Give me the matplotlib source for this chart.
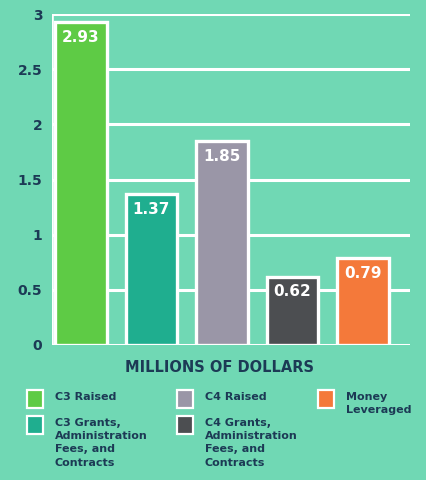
import numpy as np
import matplotlib.pyplot as plt
from matplotlib.patches import Rectangle

categories = ["C3 Raised", "C3 Grants,\nAdministration\nFees, and\nContracts",
              "C4 Raised", "C4 Grants,\nAdministration\nFees, and\nContracts",
              "Money\nLeveraged"]
values = [2.93, 1.37, 1.85, 0.62, 0.79]
bar_colors = ["#5ecb45", "#1fae8f", "#9a96a7", "#4c4e51", "#f4793a"]
yticks = [0, 0.5, 1, 1.5, 2, 2.5, 3]
ytick_labels = ["0", "0.5", "1", "1.5", "2", "2.5", "3"]

bg = "#70d8b4"
navy = "#1c3a55"

fig = plt.figure(figsize=(4.27, 4.8), dpi=100, facecolor=bg)
ax = fig.add_axes([52 / 427, 1 - 345 / 480, 358 / 427, 331 / 480])
ax.set_facecolor(bg)

x = np.arange(len(values))
for yv in yticks:
    ax.axhline(yv, color="white", lw=2.2, zorder=1)
ax.axvline(-0.41, color="white", lw=2.6, zorder=1)

bars = ax.bar(x, values, width=0.73, color=bar_colors, edgecolor="white",
              linewidth=2.4, zorder=3)
for b, v in zip(bars, values):
    ax.annotate(f"{v:.2f}", (b.get_x() + b.get_width() / 2, v),
                xytext=(0, -11), textcoords="offset points",
                ha="center", va="center", color="white",
                fontsize=11, fontweight="bold", zorder=4)

ax.set_xlim(-0.41, 4.67)
ax.set_ylim(0, 3)
ax.set_xticks([])
ax.set_yticks(yticks)
ax.set_yticklabels(ytick_labels, color=navy, fontsize=10, fontweight="bold")
ax.tick_params(axis="y", length=0, pad=7)
for s in ax.spines.values():
    s.set_visible(False)

fig.text(220 / 427, 1 - 367 / 480, "MILLIONS OF DOLLARS", ha="center",
         va="center", color=navy, fontsize=10.5, fontweight="semibold")

# legend, column-major like the original
W, H = 427, 480
spots = [(27, 390), (27, 416), (177, 390), (177, 416), (318, 390)]
for (px, py), lab, c in zip(spots, categories, bar_colors):
    fig.patches.append(Rectangle((px / W, 1 - (py + 18) / H), 16 / W, 18 / H,
                                 transform=fig.transFigure, facecolor=c,
                                 edgecolor="white", lw=1.6))
    fig.text((px + 28) / W, 1 - (py + 2) / H, lab, ha="left", va="top",
             color=navy, fontsize=8, fontweight="bold", linespacing=1.4)

fig.savefig("out.png", dpi=100, facecolor=bg)
